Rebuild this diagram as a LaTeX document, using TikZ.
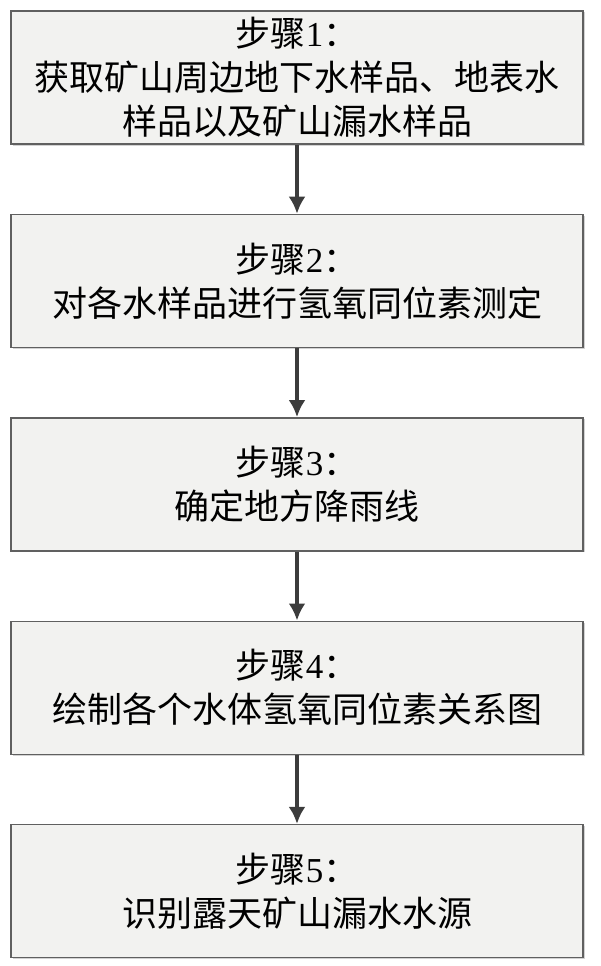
\documentclass[tikz,border=0pt]{standalone}
\usepackage{fontspec}
\setmainfont{Liberation Serif}
\newfontfamily\cjk{Noto Sans CJK SC}
\usetikzlibrary{positioning,arrows.meta,shadows}
\definecolor{boxfill}{HTML}{F2F2F0}
\definecolor{boxline}{HTML}{606060}
\definecolor{arrowcol}{HTML}{3C3C3C}
\begin{document}
\begin{tikzpicture}[x=1pt,y=1pt,
	stepbox/.style={draw=boxline, line width=1.4pt, fill=boxfill,
		drop shadow={shadow xshift=1.5pt, shadow yshift=-1.5pt, fill=gray!35, opacity=1},
		minimum width=572pt, minimum height=133pt, inner sep=0pt,
		align=center, font=\fontsize{35}{44}\selectfont\cjk},
	flow/.style={draw=arrowcol, line width=4pt, -{Latex[length=17pt,width=17pt]}}]
	\useasboundingbox (0,0) rectangle (600,-966);
	
	\node[stepbox] (step1) at (297,-77.5) {步骤\textrm{1}：\\获取矿山周边地下水样品、地表水\\样品以及矿山漏水样品};
	\node[stepbox, below=69pt of step1] (step2) {步骤\textrm{2}：\\对各水样品进行氢氧同位素测定};
	\node[stepbox, below=69pt of step2] (step3) {步骤\textrm{3}：\\确定地方降雨线};
	\node[stepbox, below=69pt of step3] (step4) {步骤\textrm{4}：\\绘制各个水体氢氧同位素关系图};
	\node[stepbox, below=69pt of step4] (step5) {步骤\textrm{5}：\\识别露天矿山漏水水源};
	
	\draw[flow] (step1) -- (step2);
	\draw[flow] (step2) -- (step3);
	\draw[flow] (step3) -- (step4);
	\draw[flow] (step4) -- (step5);
\end{tikzpicture}
\end{document}
